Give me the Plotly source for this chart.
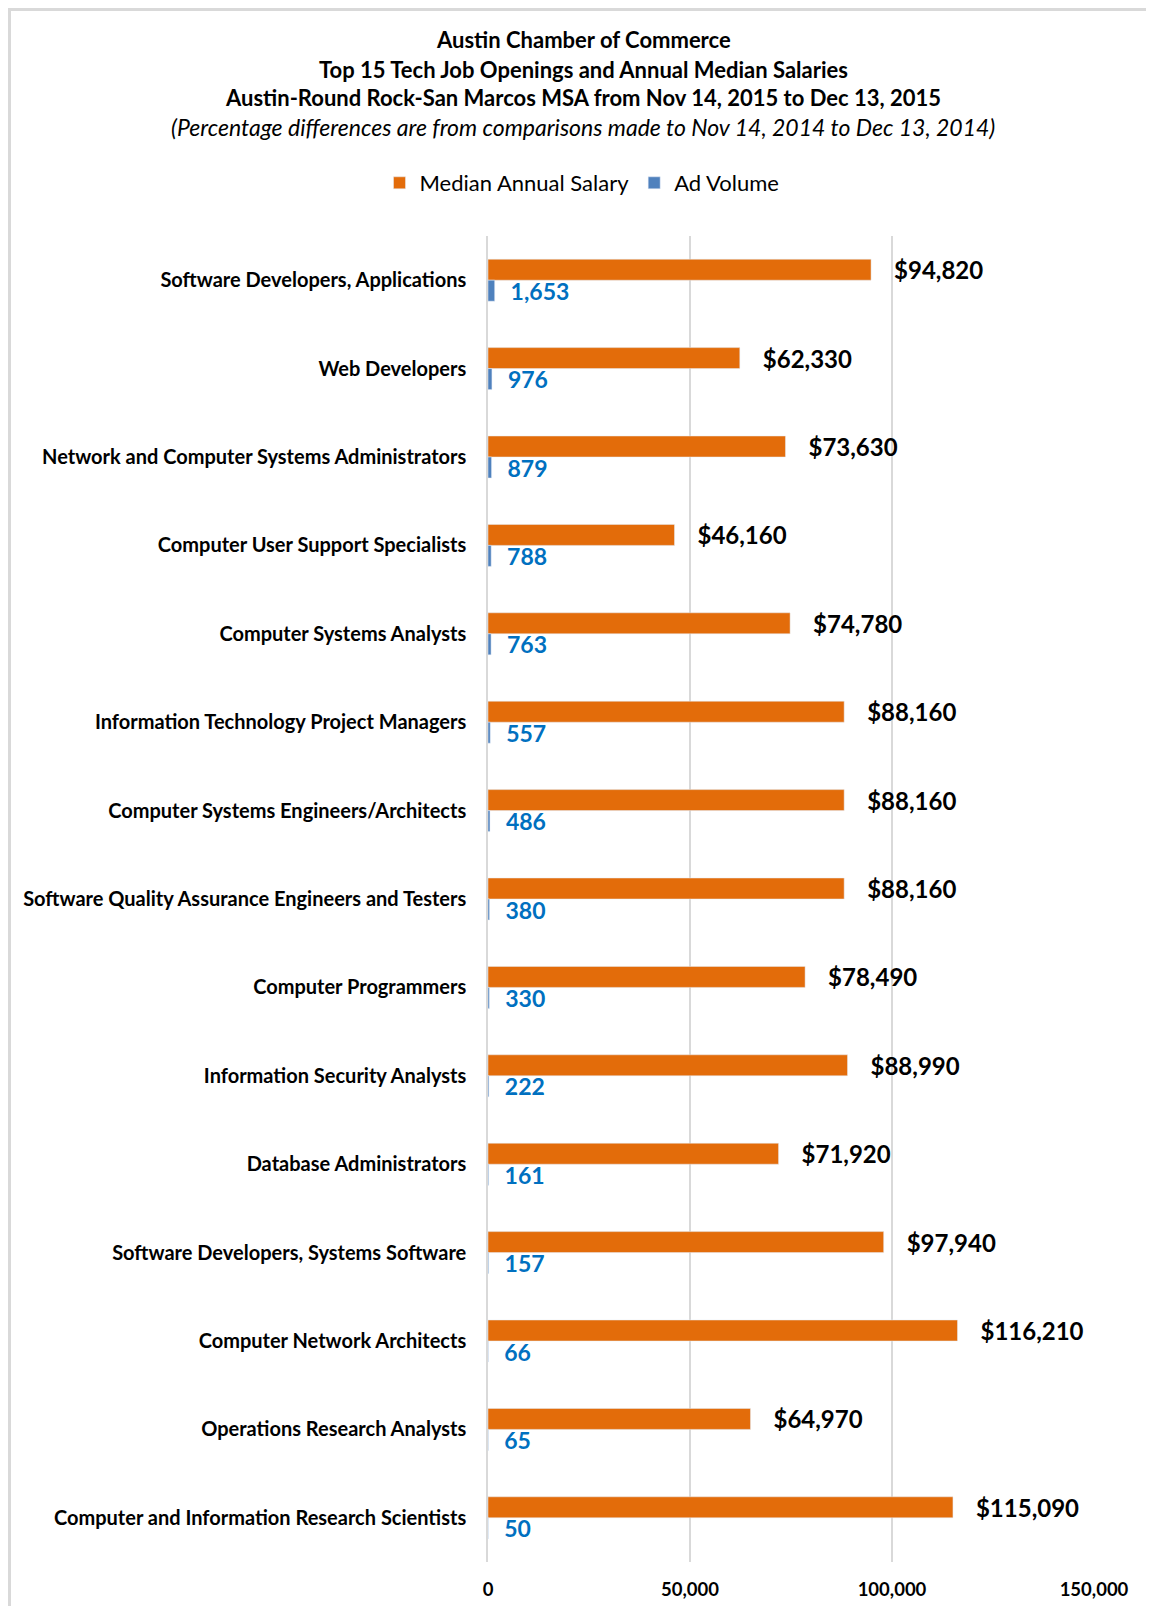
import plotly.graph_objects as go

categories = [
    "Software Developers, Applications",
    "Web Developers",
    "Network and Computer Systems Administrators",
    "Computer User Support Specialists",
    "Computer Systems Analysts",
    "Information Technology Project Managers",
    "Computer Systems Engineers/Architects",
    "Software Quality Assurance Engineers and Testers",
    "Computer Programmers",
    "Information Security Analysts",
    "Database Administrators",
    "Software Developers, Systems Software",
    "Computer Network Architects",
    "Operations Research Analysts",
    "Computer and Information Research Scientists",
]
median_salary = [94820, 62330, 73630, 46160, 74780, 88160, 88160, 88160,
                 78490, 88990, 71920, 97940, 116210, 64970, 115090]
ad_volume = [1653, 976, 879, 788, 763, 557, 486, 380, 330, 222, 161, 157, 66, 65, 50]
x_ticks = [0, 50000, 100000, 150000]

FONT = "Lato"
# page body has an 8px margin; figure coordinates are page coordinates - 8
W, H = 1138, 1598
PL, PR, PT, PB = 480, 1086, 228, 1554  # plot area in figure pixels
PW, PH = PR - PL, PB - PT


def px_x(x):
    return (x - PL) / PW


def px_y(y):
    return (PB - y) / PH


fig = go.Figure()
fig.add_trace(go.Bar(
    name="Median Annual Salary", y=categories, x=median_salary, orientation="h",
    marker=dict(color="#E36C0A"),
    texttemplate="\u2002\u2004%{x:$,}", textposition="outside", constraintext="none",
    textfont=dict(family=FONT, size=24, color="#000000", weight="bold"),
    cliponaxis=False,
))
fig.add_trace(go.Bar(
    name="Ad Volume", y=categories, x=ad_volume, orientation="h",
    marker=dict(color="#4F81BD"),
    texttemplate="\u2002\u200a%{x:,}", textposition="outside", constraintext="none",
    textfont=dict(family=FONT, size=23, color="#0070C0", weight="bold"),
    cliponaxis=False,
))

title_lines = [
    ("<b>Austin Chamber of Commerce</b>", 31, 22),
    ("<b>Top 15 Tech Job Openings and Annual Median Salaries</b>", 61, 22),
    ("<b>Austin-Round Rock-San Marcos MSA from Nov 14, 2015 to Dec 13, 2015</b>", 90, 22),
    ("<i>(Percentage differences are from comparisons made to Nov 14, 2014 to Dec 13, 2014)</i>", 119, 23),
]
annotations = []
for txt, py, fs in title_lines:
    annotations.append(dict(
        text=txt, xref="paper", yref="paper", showarrow=False,
        x=px_x(575), y=px_y(py),
        xanchor="center", yanchor="middle",
        font=dict(family=FONT, size=fs, color="#000000"),
    ))

fig.update_layout(
    width=W, height=H,
    margin=dict(l=PL, r=W - PR, t=PT, b=H - PB),
    paper_bgcolor="white", plot_bgcolor="white",
    barmode="group", bargap=0.525, bargroupgap=0,
    font=dict(family=FONT, color="#000000"),
    showlegend=True,
    legend=dict(
        orientation="h", xref="container", yref="container",
        x=574 / W, y=(H - 175) / H, xanchor="center", yanchor="middle",
        font=dict(family=FONT, size=22, color="#000000"),
        traceorder="normal",
    ),
    annotations=annotations,
    xaxis=dict(
        range=[0, 150000], tickvals=x_ticks, tickformat=",",
        showgrid=True, gridcolor="#D9D9D9", gridwidth=1.5,
        zeroline=False, showline=False, ticks="",
        tickfont=dict(family=FONT, size=18.5, color="#000000", weight="bold"),
        ticklabelstandoff=14, automargin=False,
    ),
    yaxis=dict(
        autorange="reversed", showgrid=False, zeroline=False,
        showline=True, linecolor="#D9D9D9", linewidth=1.5, ticks="",
        tickfont=dict(family=FONT, size=20, color="#000000", weight="bold"),
        ticklabelstandoff=16, automargin=False,
    ),
    shapes=[
        dict(type="line", xref="paper", yref="paper",
             x0=px_x(1.5), x1=px_x(1.5), y0=px_y(0), y1=px_y(H + 20),
             line=dict(color="#D9D9D9", width=3)),
        dict(type="line", xref="paper", yref="paper",
             x0=px_x(0), x1=px_x(W + 20), y0=px_y(1.5), y1=px_y(1.5),
             line=dict(color="#D9D9D9", width=3)),
    ],
)

fig.write_html("out.html")
